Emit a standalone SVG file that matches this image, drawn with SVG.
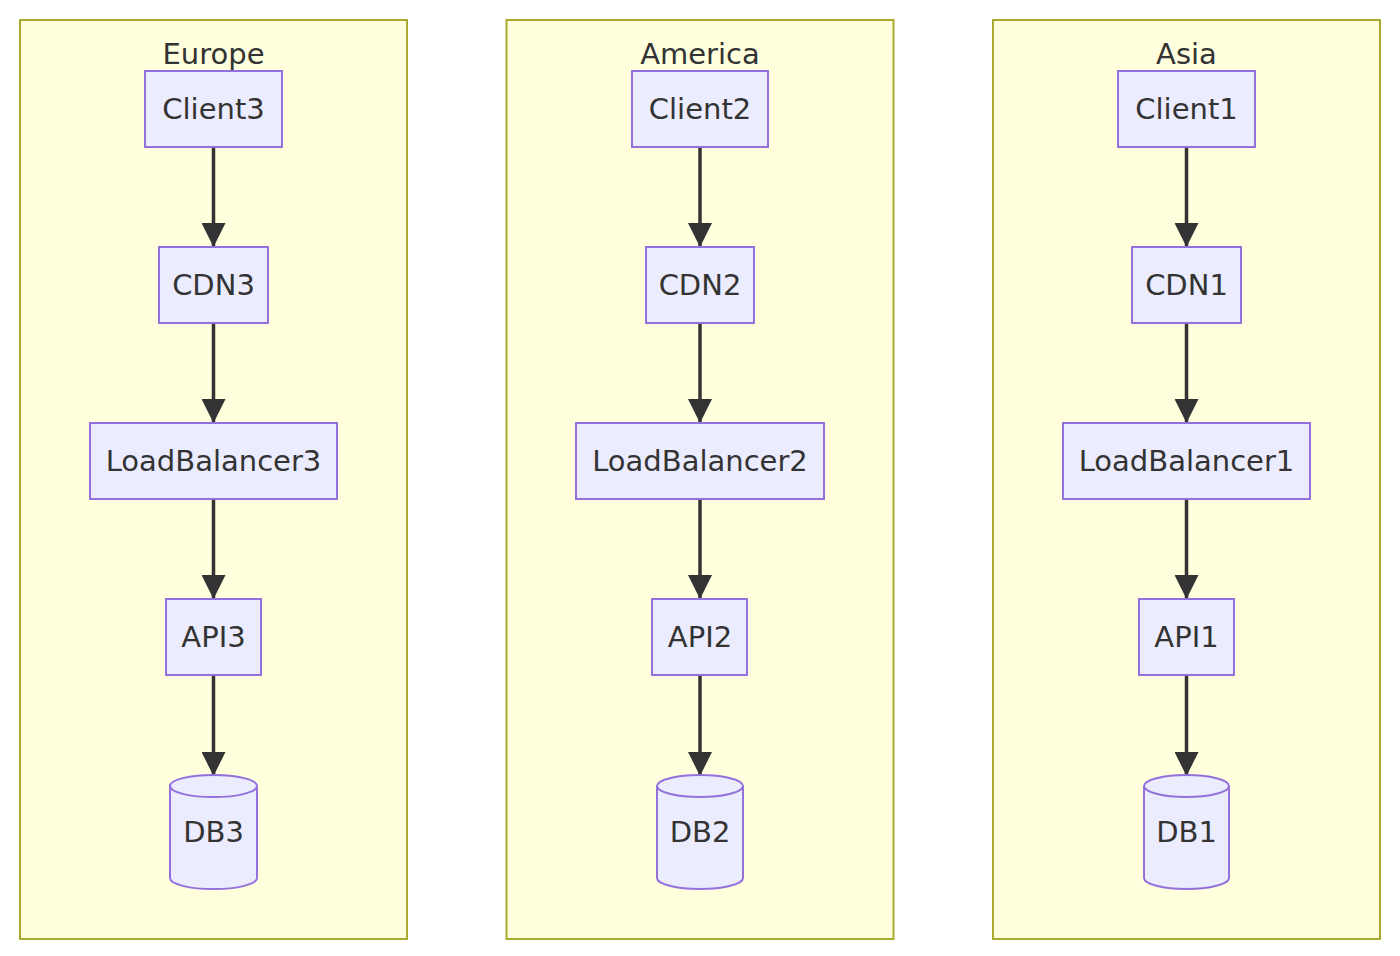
<svg xmlns="http://www.w3.org/2000/svg" width="1400" height="956" viewBox="0 0 1400 956">
<defs>
<style>
.cl{fill:#ffffde;stroke:#aaaa33;stroke-width:2}
.nd{fill:#ececff;stroke:#9370db;stroke-width:2}
.t{font-family:"DejaVu Sans","Open Sans",sans-serif;font-size:29px;fill:#333;text-anchor:middle}
.e{stroke:#333;stroke-width:3.5;fill:none;marker-end:url(#ah)}
</style>
<marker id="ah" viewBox="0 0 10 10" refX="10" refY="5" markerUnits="userSpaceOnUse" markerWidth="24" markerHeight="24" orient="auto">
<path d="M0,0 L10,5 L0,10 z" fill="#333"/>
</marker>
</defs>
<rect width="1400" height="956" fill="#fff"/>
<g id="clusters">
<g id="europe"><rect class="cl" x="20" y="20" width="387" height="919"/><text class="t" x="213.5" y="64">Europe</text></g>
<g id="america"><rect class="cl" x="506.5" y="20" width="387" height="919"/><text class="t" x="700" y="64">America</text></g>
<g id="asia"><rect class="cl" x="993" y="20" width="387" height="919"/><text class="t" x="1186.5" y="64">Asia</text></g>
</g>
<g id="edges">
<path class="e" d="M213.5,147 V247"/><path class="e" d="M213.5,323 V423"/><path class="e" d="M213.5,499 V599"/><path class="e" d="M213.5,675 V776"/>
<path class="e" d="M700,147 V247"/><path class="e" d="M700,323 V423"/><path class="e" d="M700,499 V599"/><path class="e" d="M700,675 V776"/>
<path class="e" d="M1186.5,147 V247"/><path class="e" d="M1186.5,323 V423"/><path class="e" d="M1186.5,499 V599"/><path class="e" d="M1186.5,675 V776"/>
</g>
<g id="Client3"><rect class="nd" x="145" y="71" width="137" height="76"/><text class="t" x="213.5" y="119">Client3</text></g>
<g id="CDN3"><rect class="nd" x="159" y="247" width="109" height="76"/><text class="t" x="213.5" y="295">CDN3</text></g>
<g id="LoadBalancer3"><rect class="nd" x="90" y="423" width="247" height="76"/><text class="t" x="213.5" y="471">LoadBalancer3</text></g>
<g id="API3"><rect class="nd" x="166" y="599" width="95" height="76"/><text class="t" x="213.5" y="647">API3</text></g>
<g id="DB3"><path class="nd" d="M170,786 A43,11 0 0 1 257,786 V878 A43,11 0 0 1 170,878 Z"/><path class="nd" d="M170,786 A43,11 0 0 0 257,786"/><text class="t" x="213.5" y="842">DB3</text></g>
<g id="Client2"><rect class="nd" x="632" y="71" width="136" height="76"/><text class="t" x="700" y="119">Client2</text></g>
<g id="CDN2"><rect class="nd" x="646" y="247" width="108" height="76"/><text class="t" x="700" y="295">CDN2</text></g>
<g id="LoadBalancer2"><rect class="nd" x="576" y="423" width="248" height="76"/><text class="t" x="700" y="471">LoadBalancer2</text></g>
<g id="API2"><rect class="nd" x="652" y="599" width="95" height="76"/><text class="t" x="700" y="647">API2</text></g>
<g id="DB2"><path class="nd" d="M657,786 A43,11 0 0 1 743,786 V878 A43,11 0 0 1 657,878 Z"/><path class="nd" d="M657,786 A43,11 0 0 0 743,786"/><text class="t" x="700" y="842">DB2</text></g>
<g id="Client1"><rect class="nd" x="1118" y="71" width="137" height="76"/><text class="t" x="1186.5" y="119">Client1</text></g>
<g id="CDN1"><rect class="nd" x="1132" y="247" width="109" height="76"/><text class="t" x="1186.5" y="295">CDN1</text></g>
<g id="LoadBalancer1"><rect class="nd" x="1063" y="423" width="247" height="76"/><text class="t" x="1186.5" y="471">LoadBalancer1</text></g>
<g id="API1"><rect class="nd" x="1139" y="599" width="95" height="76"/><text class="t" x="1186.5" y="647">API1</text></g>
<g id="DB1"><path class="nd" d="M1144,786 A42.5,11 0 0 1 1229,786 V878 A42.5,11 0 0 1 1144,878 Z"/><path class="nd" d="M1144,786 A42.5,11 0 0 0 1229,786"/><text class="t" x="1186.5" y="842">DB1</text></g>
</svg>
